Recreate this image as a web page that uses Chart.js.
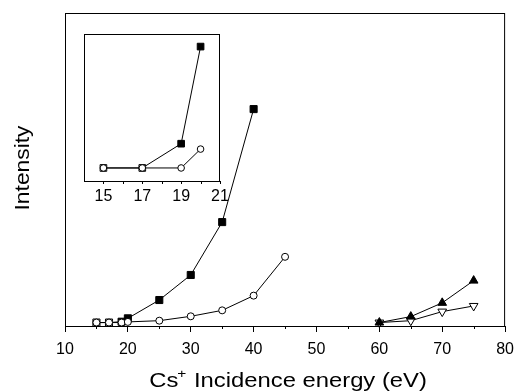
<!DOCTYPE html>
<html>
<head>
<meta charset="utf-8">
<script src="https://cdn.jsdelivr.net/npm/chart.js@4.4.1/dist/chart.umd.min.js"></script>
<style>
  html, body { margin: 0; padding: 0; background: #fff; }
  #wrap { position: relative; width: 522px; height: 392px; }
  #mainChart { position: absolute; left: 0; top: 0; }
  #insetChart { position: absolute; left: 70px; top: 28px; }
</style>
</head>
<body>
<div id="wrap">
  <canvas id="mainChart" width="522" height="392"></canvas>
  <canvas id="insetChart" width="170" height="180"></canvas>
</div>
<script>
// --- дані (інтенсивність в умовних одиницях) ---
const squareEnergy = [15, 17, 19, 20, 25, 30, 35, 40];
const squareIntensity = [1.1, 1.1, 1.37, 2.45, 8.3, 16.3, 33.2, 69.3];

const circleEnergy = [15, 17, 19, 20, 25, 30, 35, 40, 45];
const circleIntensity = [1.1, 1.1, 1.1, 1.31, 1.7, 3.1, 5.0, 9.7, 22.1];

const triUpEnergy = [60, 65, 70, 75];
const triUpIntensity = [1.1, 3.0, 7.4, 14.5];

const triDownEnergy = [60, 65, 70, 75];
const triDownIntensity = [1.1, 1.7, 4.6, 6.4];

// підписи осей
const mainTicks = [10, 20, 30, 40, 50, 60, 70, 80];
const mainMinorTicks = [15, 25, 35, 45, 55, 65, 75];
const insetTicks = [15, 17, 19, 21];
const insetMinorTicks = [16, 18, 20];

const FONT = '"Liberation Sans", Arial, sans-serif';

function toPoints(xs, ys, maxX) {
    const pts = [];
    xs.forEach((x, i) => {
        if (maxX === undefined || x <= maxX) pts.push({ x: x, y: ys[i] });
    });
    return pts;
}

// рамка, малі поділки та (для основного графіка) підписи осей
const framePlugin = {
    id: 'frame',
    beforeDraw(chart, args, opts) {
        const a = chart.chartArea;
        const ctx = chart.ctx;
        ctx.save();
        ctx.fillStyle = '#fff';
        ctx.fillRect(a.left, a.top, a.right - a.left, a.bottom - a.top);
        ctx.restore();
    },
    afterDraw(chart, args, opts) {
        const a = chart.chartArea;
        const ctx = chart.ctx;
        ctx.save();
        ctx.strokeStyle = '#000';
        ctx.lineWidth = 1;
        ctx.strokeRect(a.left + 0.5, a.top + 0.5, a.right - a.left - 1, a.bottom - a.top);
        const xs = chart.scales.x;
        ctx.beginPath();
        opts.minor.forEach(v => {
            const px = Math.round(xs.getPixelForValue(v)) + 0.5;
            ctx.moveTo(px, a.bottom);
            ctx.lineTo(px, a.bottom + opts.minorLen);
        });
        ctx.stroke();

        if (opts.titles) {
            ctx.fillStyle = '#000';
            ctx.textBaseline = 'alphabetic';
            // вісь X: Cs+ з верхнім індексом
            const big = '20px ' + FONT, small = '13px ' + FONT;
            ctx.font = big;
            const w1 = ctx.measureText('Cs').width;
            const w3 = ctx.measureText(' Incidence energy (eV)').width;
            ctx.font = small;
            const w2 = ctx.measureText('+').width;
            const total = w1 + w2 + w3;
            const cx = (a.left + a.right) / 2 + 3;
            ctx.save();
            ctx.translate(cx, 387);
            ctx.scale(1.19, 1);
            let x0 = -total / 2;
            ctx.textAlign = 'left';
            ctx.font = big;
            ctx.fillText('Cs', x0, 0);
            ctx.font = small;
            ctx.fillText('+', x0 + w1 - 1, -9);
            ctx.font = big;
            ctx.fillText(' Incidence energy (eV)', x0 + w1 + w2, 0);
            ctx.restore();

            // вісь Y
            ctx.save();
            ctx.translate(29, 168);
            ctx.rotate(-Math.PI / 2);
            ctx.scale(1.17, 1);
            ctx.textAlign = 'center';
            ctx.font = '19.5px ' + FONT;
            ctx.fillText('Intensity', 0, 0);
            ctx.restore();
        }
        ctx.restore();
    }
};

function makeDatasets(maxX, sq, circ) {
    const line = { borderColor: '#000', borderWidth: 1, showLine: true, tension: 0, clip: false,
                   pointBorderColor: '#000', pointBorderWidth: 1, pointHoverRadius: 0 };
    const sets = [
        Object.assign({}, line, {
            data: toPoints(circleEnergy, circleIntensity, maxX),
            pointStyle: 'circle', pointRadius: circ, pointBackgroundColor: '#fff'
        }),
        Object.assign({}, line, {
            data: toPoints(squareEnergy, squareIntensity, maxX),
            pointStyle: 'rect', pointRadius: sq,
            pointBackgroundColor: c => (c.raw && c.raw.x < 18 ? '#fff' : '#000')
        })
    ];
    if (maxX === undefined) {
        sets.push(Object.assign({}, line, {
            data: toPoints(triUpEnergy, triUpIntensity),
            pointStyle: 'triangle', pointRadius: 5, pointBackgroundColor: '#000'
        }));
        sets.push(Object.assign({}, line, {
            data: toPoints(triDownEnergy, triDownIntensity),
            pointStyle: 'triangle', pointRotation: 180, pointRadius: 5, pointBackgroundColor: '#fff'
        }));
    }
    return sets;
}

function xAxis(min, max, ticks, tickLen, height, pad) {
    return {
        type: 'linear', min: min, max: max,
        afterBuildTicks: s => { s.ticks = ticks.map(v => ({ value: v })); },
        afterFit: s => { s.height = height; },
        border: { display: false },
        grid: { drawOnChartArea: false, drawTicks: true, tickLength: tickLen, color: '#000', lineWidth: 1 },
        ticks: { color: '#000', font: { family: FONT, size: 16 }, padding: pad, maxRotation: 0, autoSkip: false }
    };
}

// --- основний графік ---
new Chart(document.getElementById('mainChart'), {
    type: 'scatter',
    data: { datasets: makeDatasets(undefined, 5, 3.5) },
    options: {
        responsive: false,
        animation: false,
        events: [],
        layout: { padding: { top: 13, right: 11, left: 0, bottom: 0 } },
        plugins: {
            legend: { display: false },
            tooltip: { enabled: false },
            frame: { minor: mainMinorTicks, minorLen: 3, titles: true }
        },
        scales: {
            x: xAxis(10, 80, mainTicks, 6, 66, 8),
            y: {
                type: 'linear', min: 0, max: 100,
                afterFit: s => { s.width = 65; },
                border: { display: false },
                grid: { display: false },
                ticks: { display: false }
            }
        }
    },
    plugins: [framePlugin]
});

// --- вставка (15–21 eV) ---
new Chart(document.getElementById('insetChart'), {
    type: 'scatter',
    data: { datasets: makeDatasets(20, 4.7, 3.3) },
    options: {
        responsive: false,
        animation: false,
        events: [],
        layout: { padding: { top: 6, right: 20, left: 14, bottom: 0 } },
        plugins: {
            legend: { display: false },
            tooltip: { enabled: false },
            frame: { minor: insetMinorTicks, minorLen: 3, titles: false }
        },
        scales: {
            x: xAxis(14, 21, insetTicks, 3, 27, 3),
            y: { type: 'linear', min: 0.955, max: 2.59, display: false }
        }
    },
    plugins: [framePlugin]
});
</script>
</body>
</html>
